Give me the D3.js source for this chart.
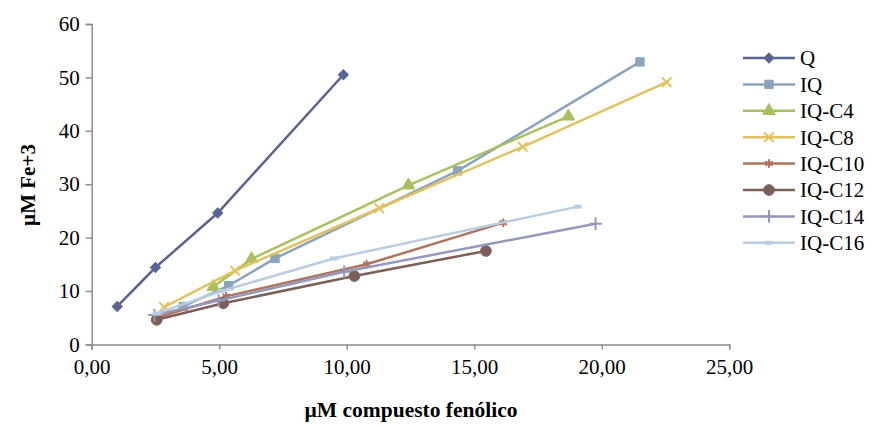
<!DOCTYPE html>
<html>
<head>
<meta charset="utf-8">
<script src="https://cdn.jsdelivr.net/npm/d3@7"></script>
<style>
  body { margin: 0; background: #fff; }
  svg text { font-family: "Liberation Serif", "Times New Roman", Times, "DejaVu Serif", serif; }
</style>
</head>
<body>
<div id="content"></div>
<script>
// series names, in legend order
const seriesNames = ["Q", "IQ", "IQ-C4", "IQ-C8", "IQ-C10", "IQ-C12", "IQ-C14", "IQ-C16"];

// [µM compuesto fenólico, µM Fe+3]
const qData     = [[1.0, 7.1], [2.5, 14.4], [4.94, 24.6], [9.87, 50.5]];
const iqData    = [[3.59, 7.1], [5.37, 11.0], [7.19, 16.1], [14.35, 32.5], [21.5, 52.9]];
const iqC4Data  = [[4.77, 10.8], [6.27, 16.0], [12.42, 29.8], [18.69, 42.7]];
const iqC8Data  = [[2.84, 7.0], [5.62, 13.8], [11.28, 25.5], [16.9, 37.0], [22.55, 49.1]];
const iqC10Data = [[2.56, 5.0], [5.27, 9.0], [10.78, 15.0], [16.14, 22.8]];
const iqC12Data = [[2.55, 4.6], [5.16, 7.7], [10.3, 12.8], [15.46, 17.5]];
const iqC14Data = [[2.46, 5.5], [4.98, 8.2], [9.9, 13.6], [19.76, 22.6]];
const iqC16Data = [[2.55, 5.8], [5.1, 10.0], [9.5, 16.1], [19.06, 25.8]];

const xTicks = [0, 5, 10, 15, 20, 25];
const yTicks = [0, 10, 20, 30, 40, 50, 60];

const allData = [qData, iqData, iqC4Data, iqC8Data, iqC10Data, iqC12Data, iqC14Data, iqC16Data];

// look of each series ("diamond" = square turned 45deg, like Excel)
const colors = ["#5a6493", "#8aa5bb", "#a8c05e", "#e2c25e", "#b0735b", "#7c5f56", "#9399bd", "#b9cde0"];
const symbols = [d3.symbolSquare, d3.symbolSquare, d3.symbolTriangle, d3.symbolTimes,
                 d3.symbolAsterisk, d3.symbolCircle, d3.symbolPlus, null];
const symSize = [50, 70, 70, 60, 50, 90, 55, 0];
const symRotate = [45, 0, 0, 0, 0, 0, 0, 0];

const serif = "'Liberation Serif', 'Times New Roman', Times, 'DejaVu Serif', serif";

const width = 884, height = 426;
const svg = d3.select("#content").append("svg")
  .attr("width", width)
  .attr("height", height)
  .attr("font-family", serif);

const x = d3.scaleLinear().domain([0, 25]).range([91.7, 729.2]);
const y = d3.scaleLinear().domain([0, 60]).range([344.4, 24]);

const axisColor = "#8c8c8c";

// X axis
const gx = svg.append("g")
  .attr("transform", `translate(0,${y(0)})`)
  .call(d3.axisBottom(x).tickValues(xTicks).tickSize(5).tickPadding(10)
    .tickFormat(d => d3.format(".2f")(d).replace(".", ",")));
gx.attr("font-family", serif);
gx.select(".domain").attr("stroke", axisColor).attr("stroke-width", 1.5);
gx.selectAll(".tick line").attr("stroke", axisColor).attr("stroke-width", 1.5);
gx.selectAll("text").attr("font-size", 21).attr("fill", "#000");

// Y axis
const gy = svg.append("g")
  .attr("transform", `translate(${x(0)},0)`)
  .call(d3.axisLeft(y).tickValues(yTicks).tickSize(6).tickPadding(6));
gy.attr("font-family", serif);
gy.select(".domain").attr("stroke", axisColor).attr("stroke-width", 1.5);
gy.selectAll(".tick line").attr("stroke", axisColor).attr("stroke-width", 1.5);
gy.selectAll("text").attr("font-size", 21).attr("fill", "#000");

// axis titles
svg.append("text")
  .attr("x", 411).attr("y", 417)
  .attr("text-anchor", "middle")
  .attr("font-size", 21.5).attr("font-weight", "bold")
  .text("µM compuesto fenólico");

svg.append("text")
  .attr("transform", "translate(35,185) rotate(-90)")
  .attr("text-anchor", "middle")
  .attr("font-size", 21).attr("font-weight", "bold")
  .text("µM Fe+3");

const line = d3.line().x(d => x(d[0])).y(d => y(d[1]));

function drawMarker(g, i, px, py) {
  if (symbols[i] === null) {
    // small dash marker of IQ-C16
    g.append("line")
      .attr("x1", px - 4).attr("x2", px + 4)
      .attr("y1", py).attr("y2", py)
      .attr("stroke", colors[i]).attr("stroke-width", 4);
    return;
  }
  const stroked = symbols[i] === d3.symbolTimes || symbols[i] === d3.symbolAsterisk || symbols[i] === d3.symbolPlus;
  g.append("path")
    .attr("d", d3.symbol().type(symbols[i]).size(symSize[i])())
    .attr("transform", `translate(${px},${py}) rotate(${symRotate[i]})`)
    .attr("fill", stroked ? "none" : colors[i])
    .attr("stroke", colors[i])
    .attr("stroke-width", stroked ? 2 : 1);
}

// series lines + markers
allData.forEach((data, i) => {
  const g = svg.append("g");
  g.append("path")
    .datum(data)
    .attr("d", line)
    .attr("fill", "none")
    .attr("stroke", colors[i])
    .attr("stroke-width", 2.5);
  data.forEach(d => drawMarker(g, i, x(d[0]), y(d[1])));
});

// legend
const legend = svg.append("g");
seriesNames.forEach((name, i) => {
  const ly = 58 + i * 26.4;
  const g = legend.append("g");
  g.append("line")
    .attr("x1", 743).attr("x2", 795)
    .attr("y1", ly).attr("y2", ly)
    .attr("stroke", colors[i]).attr("stroke-width", 2.5);
  drawMarker(g, i, 769, ly);
  g.append("text")
    .attr("x", 800).attr("y", ly)
    .attr("dy", "0.35em")
    .attr("font-size", 21)
    .text(name);
});
</script>
</body>
</html>
